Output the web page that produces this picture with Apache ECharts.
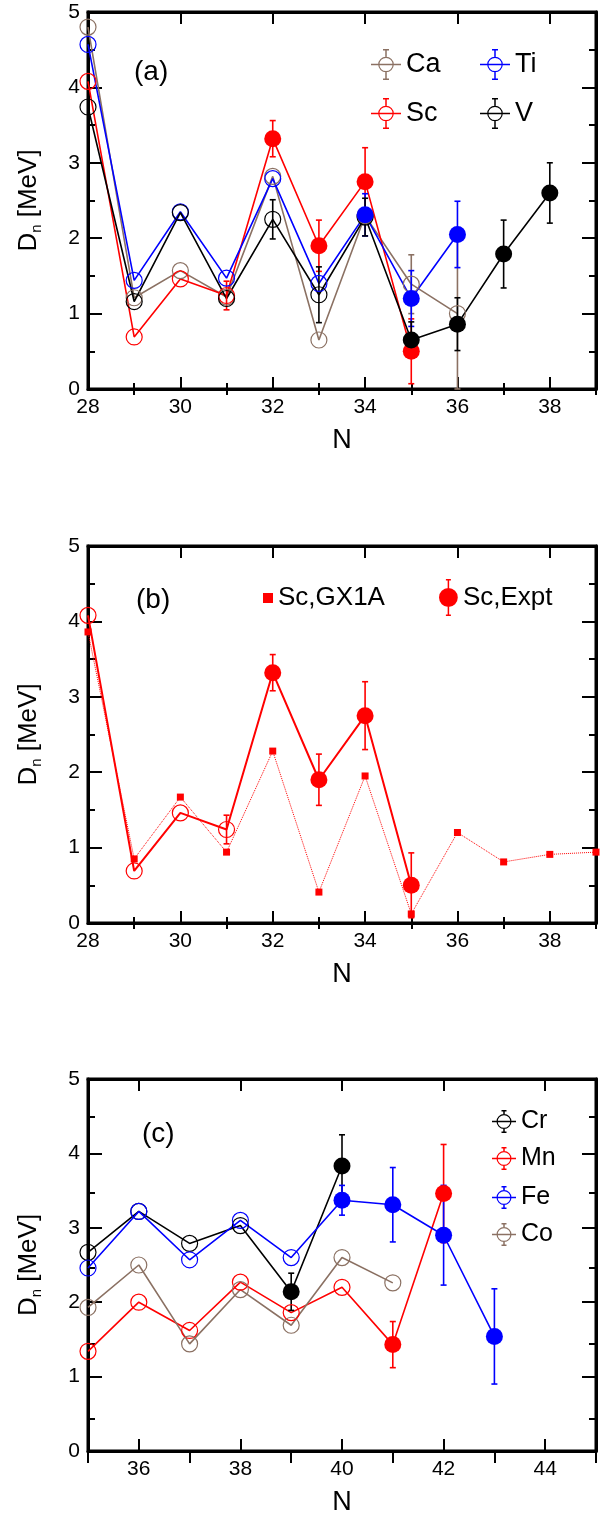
<!DOCTYPE html>
<html>
<head>
<meta charset="utf-8">
<script src="https://cdn.jsdelivr.net/npm/echarts@6/dist/echarts.min.js"></script>
<style>
  html, body { margin: 0; padding: 0; background: #fff; }
  #chart { width: 600px; height: 1517px; }
</style>
</head>
<body>
<div id="chart"></div>
<script>
// ---- panel (a): Ca, Sc, Ti, V ----
const caN = [28, 29, 30, 31, 32, 33, 34, 35, 36];
const caD = [4.80, 1.21, 1.57, 1.22, 2.82, 0.65, 2.30, 1.39, 1.00];
const caErr = [0, 0, 0, 0, 0, 0, 0, 0.39, 1.00];
const caFilled = [0, 0, 0, 0, 0, 0, 0, 0, 0];

const scN = [28, 29, 30, 31, 32, 33, 34, 35];
const scD = [4.08, 0.69, 1.46, 1.24, 3.32, 1.90, 2.75, 0.50];
const scErr = [0, 0, 0, 0.19, 0.24, 0.34, 0.45, 0.43];
const scFilled = [0, 0, 0, 0, 1, 1, 1, 1];

const tiN = [28, 29, 30, 31, 32, 33, 34, 35, 36];
const tiD = [4.57, 1.44, 2.35, 1.47, 2.79, 1.40, 2.31, 1.20, 2.05];
const tiErr = [0, 0, 0, 0, 0, 0, 0.28, 0.37, 0.44];
const tiFilled = [0, 0, 0, 0, 0, 0, 1, 1, 1];

const vN = [28, 29, 30, 31, 32, 33, 34, 35, 36, 37, 38];
const vD = [3.74, 1.16, 2.34, 1.20, 2.25, 1.25, 2.28, 0.65, 0.86, 1.79, 2.60];
const vErr = [0, 0, 0, 0, 0.26, 0.37, 0.25, 0.24, 0.35, 0.45, 0.40];
const vFilled = [0, 0, 0, 0, 0, 0, 0, 1, 1, 1, 1];

// ---- panel (b): Sc shell model (GX1A) vs experiment ----
const gxN = [28, 29, 30, 31, 32, 33, 34, 35, 36, 37, 38, 39];
const gxD = [3.86, 0.85, 1.67, 0.94, 2.28, 0.41, 1.95, 0.12, 1.20, 0.81, 0.91, 0.94];

// ---- panel (c): Cr, Mn, Fe, Co ----
const crN = [35, 36, 37, 38, 39, 40];
const crD = [2.67, 3.22, 2.79, 3.03, 2.14, 3.83];
const crErr = [0, 0, 0, 0, 0.25, 0.42];
const crFilled = [0, 0, 0, 0, 1, 1];

const mnN = [35, 36, 37, 38, 39, 40, 41, 42];
const mnD = [1.34, 2.00, 1.62, 2.27, 1.86, 2.20, 1.43, 3.46];
const mnErr = [0, 0, 0, 0, 0, 0, 0.31, 0.66];
const mnFilled = [0, 0, 0, 0, 0, 0, 1, 1];

const feN = [35, 36, 37, 38, 39, 40, 41, 42, 43];
const feD = [2.46, 3.22, 2.57, 3.10, 2.60, 3.37, 3.31, 2.90, 1.54];
const feErr = [0, 0, 0, 0, 0, 0.20, 0.50, 0.67, 0.64];
const feFilled = [0, 0, 0, 0, 0, 1, 1, 1, 1];

const coN = [35, 36, 37, 38, 39, 40, 41];
const coD = [1.93, 2.50, 1.44, 2.17, 1.69, 2.60, 2.26];
const coErr = [0, 0, 0, 0, 0, 0, 0];
const coFilled = [0, 0, 0, 0, 0, 0, 0];

// ---- ticks ----
const yMajor = [0, 1, 2, 3, 4, 5];
const yMinor = [0.5, 1.5, 2.5, 3.5, 4.5];
const xMajorAB = [28, 30, 32, 34, 36, 38];
const xMinorAB = [29, 31, 33, 35, 37, 39];
const xMajorC = [36, 38, 40, 42, 44];
const xMinorC = [35, 37, 39, 41, 43, 45];

const FONT = "'Liberation Sans', Arial, sans-serif";
const BROWN = '#8b7163';

// each panel gets two identical grids: one for the frame/labels/data, one for minor ticks
const panelRects = [
  { left: 88, top: 12, width: 508, height: 377 },
  { left: 88, top: 546, width: 508, height: 377 },
  { left: 88, top: 1079, width: 508, height: 378 }
];
const grids = [];
panelRects.forEach(r => {
  // main grid draws the closed frame itself
  grids.push(Object.assign({ show: true, borderColor: '#000', borderWidth: 3,
                             backgroundColor: 'rgba(0,0,0,0)' }, r));
  grids.push(Object.assign({}, r));
});

let xAxes = [], yAxes = [];
function frame(pi, xmin, xmax, xMaj, xMin) {
  const gMain = pi * 2, gMinor = pi * 2 + 1;
  const line = { show: true, onZero: false, lineStyle: { color: '#000', width: 3 } };
  const lab = { show: true, fontSize: 21, fontFamily: FONT, color: '#000', margin: 8 };
  const tk = (vals, len) => ({ show: true, inside: true, length: len, customValues: vals,
                               lineStyle: { color: '#000', width: 2 } });
  const ax = (gi, extra) => Object.assign({ type: 'value', gridIndex: gi, splitLine: { show: false } }, extra);

  xAxes.push(ax(gMain, { position: 'bottom', min: xmin, max: xmax, interval: 1,
    axisLine: line, axisTick: tk(xMaj, 12), axisLabel: Object.assign({ customValues: xMaj }, lab),
    name: 'N', nameLocation: 'middle', nameGap: 38,
    nameTextStyle: { fontSize: 27, fontFamily: FONT, color: '#000' } }));
  xAxes.push(ax(gMain, { position: 'top', min: xmin, max: xmax, interval: 1,
    axisLine: line, axisTick: tk(xMaj, 12), axisLabel: { show: false } }));
  ['bottom', 'top'].forEach(pos => {
    xAxes.push(ax(gMinor, { position: pos, min: xmin, max: xmax, interval: 1,
      axisLine: { show: false }, axisTick: tk(xMin, 6), axisLabel: { show: false } }));
  });

  yAxes.push(ax(gMain, { position: 'left', min: 0, max: 5, interval: 1,
    axisLine: line, axisTick: tk(yMajor, 14), axisLabel: Object.assign({ customValues: yMajor }, lab),
    name: '{d|D}{s|n}{d| [MeV]}', nameLocation: 'middle', nameGap: 44,
    nameTextStyle: { color: '#000', rich: {
      d: { fontSize: 26, fontFamily: FONT, color: '#000', lineHeight: 30 },
      s: { fontSize: 15, fontFamily: FONT, color: '#000', verticalAlign: 'bottom', lineHeight: 30 }
    } } }));
  yAxes.push(ax(gMain, { position: 'right', min: 0, max: 5, interval: 1,
    axisLine: line, axisTick: tk(yMajor, 14), axisLabel: { show: false } }));
  ['left', 'right'].forEach(pos => {
    yAxes.push(ax(gMinor, { position: pos, min: 0, max: 5, interval: 0.5,
      axisLine: { show: false }, axisTick: tk(yMinor, 7), axisLabel: { show: false } }));
  });
}
frame(0, 28, 39, xMajorAB, xMinorAB);
frame(1, 28, 39, xMajorAB, xMinorAB);
frame(2, 35, 45, xMajorC, xMinorC);

function errBar(params, api) {
  const x = api.value(0), y = api.value(1), e = api.value(2);
  const hi = api.coord([x, y + e]);
  const lo = api.coord([x, Math.max(0, y - e)]);
  const c = api.visual('color');
  const w = 3;
  const st = { stroke: c, lineWidth: 1.6 };
  return { type: 'group', children: [
    { type: 'line', shape: { x1: hi[0], y1: hi[1], x2: lo[0], y2: lo[1] }, style: st },
    { type: 'line', shape: { x1: hi[0] - w, y1: hi[1], x2: hi[0] + w, y2: hi[1] }, style: st },
    { type: 'line', shape: { x1: lo[0] - w, y1: lo[1], x2: lo[0] + w, y2: lo[1] }, style: st }
  ] };
}

// one element: connecting line, error bars, open and filled circles
function element(name, color, pi, ns, vals, errs, filled, lw) {
  const ax = { xAxisIndex: pi * 4, yAxisIndex: pi * 4 };
  const open = [], full = [], bars = [];
  ns.forEach((n, i) => {
    (filled[i] ? full : open).push([n, vals[i]]);
    if (errs[i]) bars.push([n, vals[i], errs[i]]);
  });
  return [
    Object.assign({ type: 'line', name, data: ns.map((n, i) => [n, vals[i]]), symbol: 'none',
      lineStyle: { color, width: lw }, itemStyle: { color }, z: 2 }, ax),
    Object.assign({ type: 'custom', name, data: bars, renderItem: errBar,
      encode: { x: 0, y: 1 }, itemStyle: { color }, z: 3 }, ax),
    Object.assign({ type: 'scatter', name, data: open, symbol: 'circle', symbolSize: 16,
      itemStyle: { color: 'rgba(0,0,0,0)', borderColor: color, borderWidth: 1.2, opacity: 1 }, z: 4 }, ax),
    Object.assign({ type: 'scatter', name, data: full, symbol: 'circle', symbolSize: 17,
      itemStyle: { color, opacity: 1 }, z: 5 }, ax)
  ];
}

let series = [];
series = series.concat(
  element('Ca', BROWN, 0, caN, caD, caErr, caFilled, 1.6),
  element('Sc', '#ff0000', 0, scN, scD, scErr, scFilled, 1.6),
  element('Ti', '#0000ff', 0, tiN, tiD, tiErr, tiFilled, 1.6),
  element('V', '#000000', 0, vN, vD, vErr, vFilled, 1.6)
);
series.push({ type: 'line', name: 'Sc,GX1A', xAxisIndex: 4, yAxisIndex: 4,
  data: gxN.map((n, i) => [n, gxD[i]]), symbol: 'rect', symbolSize: 7, showSymbol: true,
  lineStyle: { color: '#ff0000', width: 1, type: 'dotted' }, itemStyle: { color: '#ff0000' }, z: 2 });
series = series.concat(
  element('Sc,Expt', '#ff0000', 1, scN, scD, scErr, scFilled, 2)
);
series = series.concat(
  element('Cr', '#000000', 2, crN, crD, crErr, crFilled, 1.6),
  element('Mn', '#ff0000', 2, mnN, mnD, mnErr, mnFilled, 1.6),
  element('Fe', '#0000ff', 2, feN, feD, feErr, feFilled, 1.6),
  element('Co', BROWN, 2, coN, coD, coErr, coFilled, 1.6)
);

// legend icons: open circle with line and error bar; filled circle with error bar
const iconA = 'path://M0 14.7H30V16.3H0Z' +
  'M15 7.7A7.8 7.8 0 1 1 15 23.3A7.8 7.8 0 1 1 15 7.7Z' +
  'M15 8.9A6.6 6.6 0 1 0 15 22.1A6.6 6.6 0 1 0 15 8.9Z' +
  'M14.25 1H15.75V7.7H14.25Z M14.25 23.3H15.75V30H14.25Z' +
  'M12 0H18V1.5H12Z M12 29.5H18V31H12Z';
const iconC = 'path://M0 10.75H24V12.25H0Z' +
  'M12 4A7.5 7.5 0 1 1 12 19A7.5 7.5 0 1 1 12 4Z' +
  'M12 5.2A6.3 6.3 0 1 0 12 17.8A6.3 6.3 0 1 0 12 5.2Z' +
  'M11.25 1H12.75V4H11.25Z M11.25 19H12.75V22H11.25Z' +
  'M9.5 0H14.5V1.5H9.5Z M9.5 21.5H14.5V23H9.5Z';
const iconExpt = 'path://M9.5 9.1A9.4 9.4 0 1 1 9.5 27.9A9.4 9.4 0 1 1 9.5 9.1Z' +
  'M8.75 1H10.25V36H8.75Z M7 0H12V1.5H7Z M7 35.5H12V37H7Z';

function leg(name, color, icon, w, h, left, top, fs) {
  return { data: [{ name, icon, itemStyle: { color, borderWidth: 0, opacity: 1 } }],
    left, top, padding: 0, itemWidth: w, itemHeight: h, selectedMode: false,
    textStyle: { fontSize: fs, fontFamily: FONT, color: '#000' } };
}
const legends = [
  leg('Ca', BROWN, iconA, 30, 31, 371, 49, 27),
  leg('Ti', '#0000ff', iconA, 30, 31, 480, 49, 27),
  leg('Sc', '#ff0000', iconA, 30, 31, 371, 98, 27),
  leg('V', '#000000', iconA, 30, 31, 480, 98, 27),
  leg('Sc,GX1A', '#ff0000', 'rect', 10, 10, 263, 585, 26),
  leg('Sc,Expt', '#ff0000', iconExpt, 19, 37, 439, 579, 26),
  leg('Cr', '#000000', iconC, 24, 23, 492, 1109, 25),
  leg('Mn', '#ff0000', iconC, 24, 23, 492, 1146, 25),
  leg('Fe', '#0000ff', iconC, 24, 23, 492, 1185, 25),
  leg('Co', BROWN, iconC, 24, 23, 492, 1222, 25)
];

const panelTitle = (text, left, top) => ({ text, left, top, padding: 0,
  textStyle: { fontSize: 28, fontWeight: 'normal', fontFamily: FONT, color: '#000' } });

const chart = echarts.init(document.getElementById('chart'), null, { renderer: 'canvas' });
chart.setOption({
  animation: false,
  backgroundColor: '#fff',
  title: [panelTitle('(a)', 134, 58), panelTitle('(b)', 136, 586), panelTitle('(c)', 142, 1120)],
  grid: grids,
  xAxis: xAxes,
  yAxis: yAxes,
  legend: legends,
  series: series
});
</script>
</body>
</html>
